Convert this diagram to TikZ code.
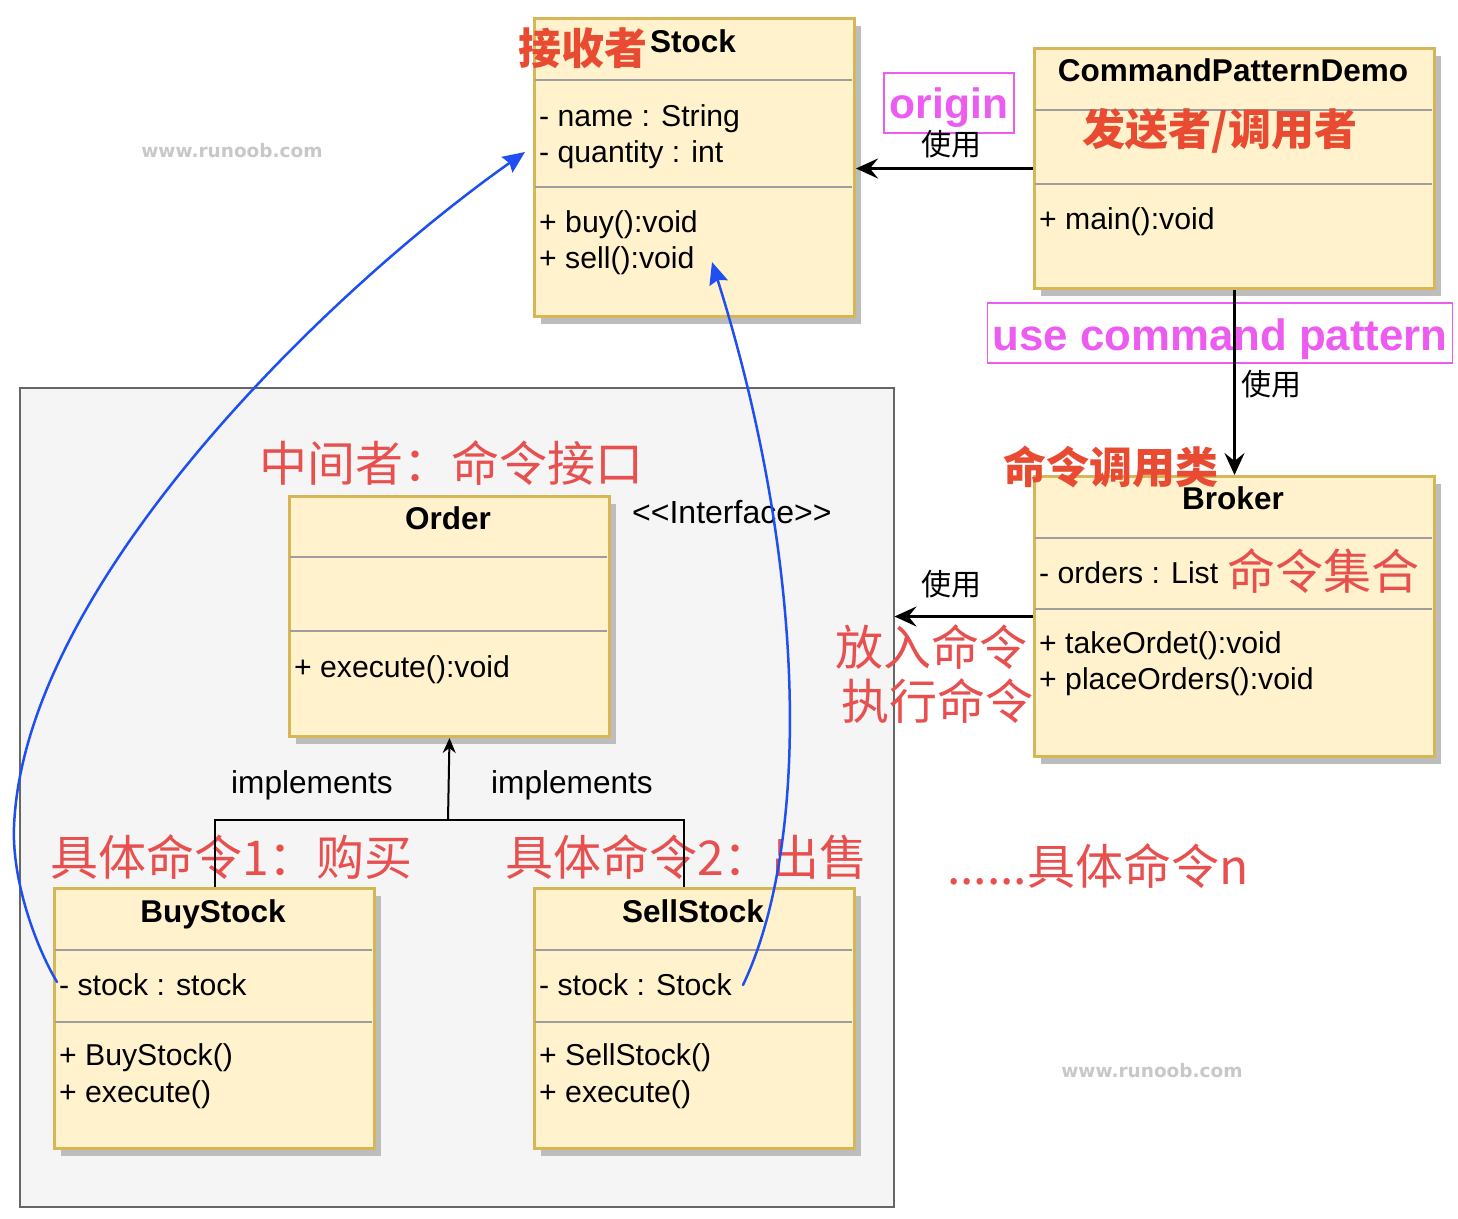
\documentclass[tikz,border=0pt]{standalone}
\usepackage{fontspec}
\setmainfont{Liberation Sans}
\newfontfamily\cjk{Noto Sans CJK SC}
\newfontfamily\wmfont{DejaVu Sans}
\usetikzlibrary{arrows.meta,shadows}
\definecolor{boxfill}{HTML}{FFF2CC}
\definecolor{boxdraw}{HTML}{D6B656}
\definecolor{sepc}{HTML}{9E9E9E}
\definecolor{shadowc}{HTML}{BDBDBD}
\definecolor{grpfill}{HTML}{F5F5F5}
\definecolor{grpdraw}{HTML}{666666}
\definecolor{redb}{HTML}{E84B32}
\definecolor{redl}{HTML}{E85050}
\definecolor{pinkc}{HTML}{EC5CF0}
\definecolor{bluec}{HTML}{1E4FF0}
\definecolor{wmc}{HTML}{C8C8C8}
\begin{document}
\begin{tikzpicture}[x=1pt,y=-1pt,
  cls/.style={draw=boxdraw, fill=boxfill, line width=3pt, rectangle, inner sep=0pt, anchor=north west,
    drop shadow={shadow xshift=6pt, shadow yshift=-7pt, fill=shadowc, opacity=1}},
  grpbox/.style={draw=grpdraw, fill=grpfill, line width=1.5pt, rectangle, inner sep=0pt, anchor=north west},
  sepline/.style={draw=sepc, line width=2pt},
  body/.style={inner sep=0pt, font=\fontsize{30.2}{36}\selectfont, anchor=base west},
  head/.style={inner sep=0pt, font=\bfseries\fontsize{31.5}{38}\selectfont, anchor=base},
  redbold/.style={inner sep=0pt, text=redb, font=\cjk\bfseries\fontsize{43}{50}\selectfont, anchor=west},
  redlight/.style={inner sep=0pt, text=redl, font=\cjk\fontsize{48}{55}\selectfont, anchor=west},
  uselbl/.style={inner sep=0pt, font=\cjk\fontsize{30}{36}\selectfont},
  impllbl/.style={inner sep=0pt, font=\fontsize{31.6}{37}\selectfont, anchor=base},
  pinkbox/.style={draw=pinkc, line width=1.5pt, rectangle, inner sep=0pt},
  pinktext/.style={inner sep=0pt, text=pinkc, font=\bfseries\fontsize{#1}{#1}\selectfont, anchor=base},
  wm/.style={inner sep=0pt, text=wmc, font=\wmfont\bfseries\fontsize{18.5}{22}\selectfont, anchor=base},
  bigarrow/.style={draw=black, line width=3pt, -{Stealth[length=22pt,width=20pt,inset=8pt]}},
  impl/.style={draw=black, line width=2pt},
  implarrow/.style={draw=black, line width=2pt, -{Stealth[length=15pt,width=13pt,inset=5pt]}},
  bluearrow/.style={draw=bluec, line width=2.5pt, line cap=round, line join=round, -{Stealth[length=22pt,width=19pt,inset=3pt]}}
]
\path[use as bounding box, fill=white] (0,0) rectangle (1458,1218);

% group container
\node[grpbox, minimum width=874pt, minimum height=819pt] (grp) at (19,387) {};

% watermarks
\node[wm] (wm1) at (232,157) {www.runoob.com};
\node[wm] (wm2) at (1152,1077) {www.runoob.com};

% ---------- Stock ----------
\node[cls, minimum width=320pt, minimum height=298pt] (stock) at (533,17) {};
\draw[sepline] (534.5,80) -- (851.5,80);
\draw[sepline] (534.5,187) -- (851.5,187);
\node[head] (stockh) at (693,52) {Stock};
\node[body] (stocka1) at (539,126) {- name : String};
\node[body] (stocka2) at (539,162) {- quantity : int};
\node[body] (stockm1) at (539,232) {+ buy():void};
\node[body] (stockm2) at (539,268) {+ sell():void};
\node[redbold] (recv) at (518,48) {接收者};

% ---------- CommandPatternDemo ----------
\node[cls, minimum width=400pt, minimum height=240pt] (cpd) at (1033,47) {};
\draw[sepline] (1034.5,110) -- (1431.5,110);
\draw[sepline] (1034.5,184) -- (1431.5,184);
\node[head] (cpdh) at (1233,81) {CommandPatternDemo};
\node[body] (cpdm1) at (1039,229) {+ main():void};
\node[redbold, anchor=center] (sender) at (1220,131) {发送者/调用者};

% ---------- Broker ----------
\node[cls, minimum width=400pt, minimum height=280pt] (broker) at (1033,475) {};
\draw[sepline] (1034.5,538) -- (1431.5,538);
\draw[sepline] (1034.5,609) -- (1431.5,609);
\node[head] (brokerh) at (1233,509) {Broker};
\node[body] (brokera1) at (1039,583) {- orders : List};
\node[body] (brokerm1) at (1039,653) {+ takeOrdet():void};
\node[body] (brokerm2) at (1039,689) {+ placeOrders():void};
\node[redlight] (ordset) at (1227,571) {命令集合};
\node[redbold] (invoker) at (1003,467) {命令调用类};

% ---------- Order ----------
\node[cls, minimum width=320pt, minimum height=240pt] (order) at (288,495) {};
\draw[sepline] (289.5,557) -- (606.5,557);
\draw[sepline] (289.5,631) -- (606.5,631);
\node[head] (orderh) at (448,529) {Order};
\node[body] (orderm1) at (294,677) {+ execute():void};
\node[body, font=\fontsize{32}{38}\selectfont] (iface) at (632,523) {<\kern0pt<Interface>\kern0pt>};
\node[redlight] (mid) at (259,463) {中间者：命令接口};

% ---------- BuyStock ----------
\node[cls, minimum width=320pt, minimum height=260pt] (buy) at (53,887) {};
\draw[sepline] (54.5,950) -- (371.5,950);
\draw[sepline] (54.5,1022) -- (371.5,1022);
\node[head] (buyh) at (213,922) {BuyStock};
\node[body] (buya1) at (59,995) {- stock : stock};
\node[body] (buym1) at (59,1065) {+ BuyStock()};
\node[body] (buym2) at (59,1102) {+ execute()};

% ---------- SellStock ----------
\node[cls, minimum width=320pt, minimum height=260pt] (sell) at (533,887) {};
\draw[sepline] (534.5,950) -- (851.5,950);
\draw[sepline] (534.5,1022) -- (851.5,1022);
\node[head] (sellh) at (693,922) {SellStock};
\node[body] (sella1) at (539,995) {- stock : Stock};
\node[body] (sellm1) at (539,1065) {+ SellStock()};
\node[body] (sellm2) at (539,1102) {+ execute()};

% red labels
\node[redlight] (cmd1) at (50,857) {具体命令1：购买};
\node[redlight] (cmd2) at (505,857) {具体命令2：出售};
\node[redlight] (cmdn) at (947,866) {......具体命令n};
\node[redlight] (put) at (835,647) {放入命令};
\node[redlight] (exec) at (841,701) {执行命令};

% pink annotations
\node[pinkbox, minimum width=130pt, minimum height=60pt] (origbox) at (949,103) {};
\node[pinktext=42.5] (origtxt) at (949,118) {origin};
\node[pinkbox, minimum width=465pt, minimum height=60pt] (ucpbox) at (1220,333) {};
\node[pinktext=43.8] (ucptxt) at (1220,350) {use command pattern};

% implements connectors
\coordinate (jn) at (448,820);
\coordinate (sellin) at (684,887);
\draw[impl] (buy.north) |- (jn) -| (sellin);
\draw[implarrow] (jn) -- (order.south);
\node[impllbl] (impl1) at (312,793) {implements};
\node[impllbl] (impl2) at (572,793) {implements};

% usage arrows
\draw[bigarrow] (cpd.west) -- (cpd.west -| stock.east);
\node[uselbl] (use1) at (951,144) {使用};
\draw[bigarrow] (cpd.south) -- (broker.north);
\node[uselbl] (use2) at (1271,384) {使用};
\draw[bigarrow] (broker.west) -- (broker.west -| grp.east);
\node[uselbl] (use3) at (951,584) {使用};

% blue hand-drawn references
\coordinate (b1s) at (57,982);
\coordinate (b1e) at (525,152);
\coordinate (b2s) at (743,985);
\coordinate (b2e) at (712,262);
\draw[bluearrow] (b1s) .. controls (35,945) and (12,880) .. (14,827)
  .. controls (23,588.5) and (322.6,295) .. (b1e);
\draw[bluearrow] (b2s) .. controls (812,840) and (806,560) .. (b2e);
\end{tikzpicture}
\end{document}
